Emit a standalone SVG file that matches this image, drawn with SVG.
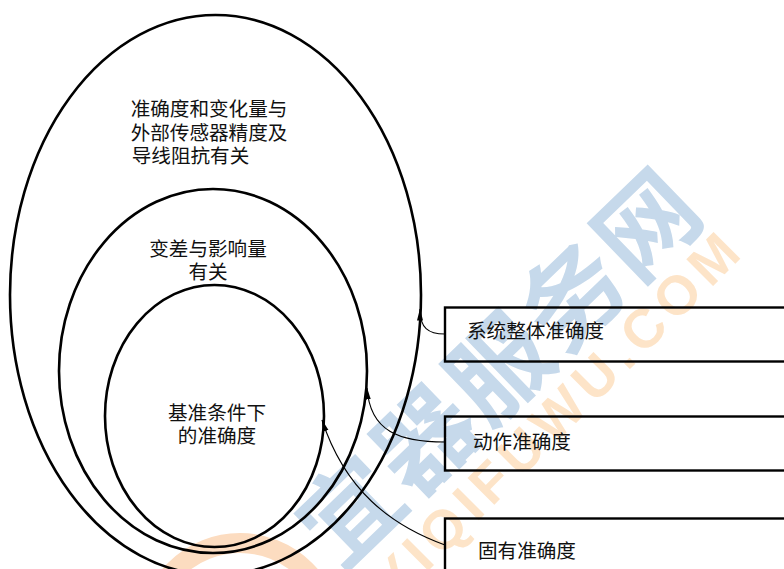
<svg xmlns="http://www.w3.org/2000/svg" width="784" height="569" viewBox="0 0 784 569">
<style>
.e{fill:none;stroke:#000;stroke-width:2.6}
.c{fill:none;stroke:#000;stroke-width:1.1}
.b{fill:none;stroke:#000;stroke-width:2.4}
.t{font-family:"Noto Sans CJK SC","Liberation Serif",serif;font-size:19.600px;fill:#111;text-anchor:middle}
.l{text-anchor:start}
.wb{font-family:"Noto Sans CJK SC",sans-serif;font-weight:700;font-size:100px;fill:#c6d9eb}
.wo{font-family:"Liberation Sans",sans-serif;font-weight:700;font-size:55px;fill:#fde4c8}
</style>
<defs><marker id="a" markerWidth="12" markerHeight="7" refX="11.500" refY="3.500" orient="auto" markerUnits="userSpaceOnUse"><path d="M0 0.500 L12 3.500 L0 6.500Z" fill="#000"/></marker></defs>
<rect width="784" height="569" fill="#fff"/>
<g id="watermark">
<circle cx="240" cy="635" r="92" fill="none" stroke="#fcdcc0" stroke-width="20"/>
<text class="wo" transform="translate(395 604) rotate(-45)" textLength="492" lengthAdjust="spacing">YIQIFUWU.COM</text>
<text class="wb" transform="translate(340 572) rotate(-44)" textLength="512" lengthAdjust="spacing">宜器服务网</text>
</g>
<g id="outer"><ellipse class="e" cx="215.500" cy="295" rx="205.500" ry="280"/><text class="t" x="209" y="116">准确度和变化量与</text><text class="t" x="209" y="140">外部传感器精度及</text><text class="t" x="190.500" y="163">导线阻抗有关</text></g>
<g id="middle"><ellipse class="e" cx="213" cy="371" rx="154" ry="182"/><text class="t" x="208" y="256">变差与影响量</text><text class="t" x="208" y="279">有关</text></g>
<g id="inner"><ellipse class="e" cx="214.500" cy="416" rx="109.500" ry="131"/><text class="t" x="217" y="420">基准条件下</text><text class="t" x="217" y="443">的准确度</text></g>
<g id="box1"><rect class="b" x="445" y="307.500" width="345" height="54"/><text class="t l" x="467" y="338">系统整体准确度</text></g>
<g id="box2"><rect class="b" x="445" y="416.500" width="345" height="54"/><text class="t l" x="473" y="449">动作准确度</text></g>
<g id="box3"><rect class="b" x="445" y="518.500" width="345" height="60"/><text class="t l" x="478" y="558">固有准确度</text></g>
<g id="connectors">
<path class="c" marker-end="url(#a)" d="M445 334 C428 334 420 328 420 309"/>
<path class="c" marker-end="url(#a)" d="M445 442 C400 442 370 432 367 388"/>
<path class="c" marker-end="url(#a)" d="M445 545 C390 525 345 490 322 420"/>
</g>
</svg>
